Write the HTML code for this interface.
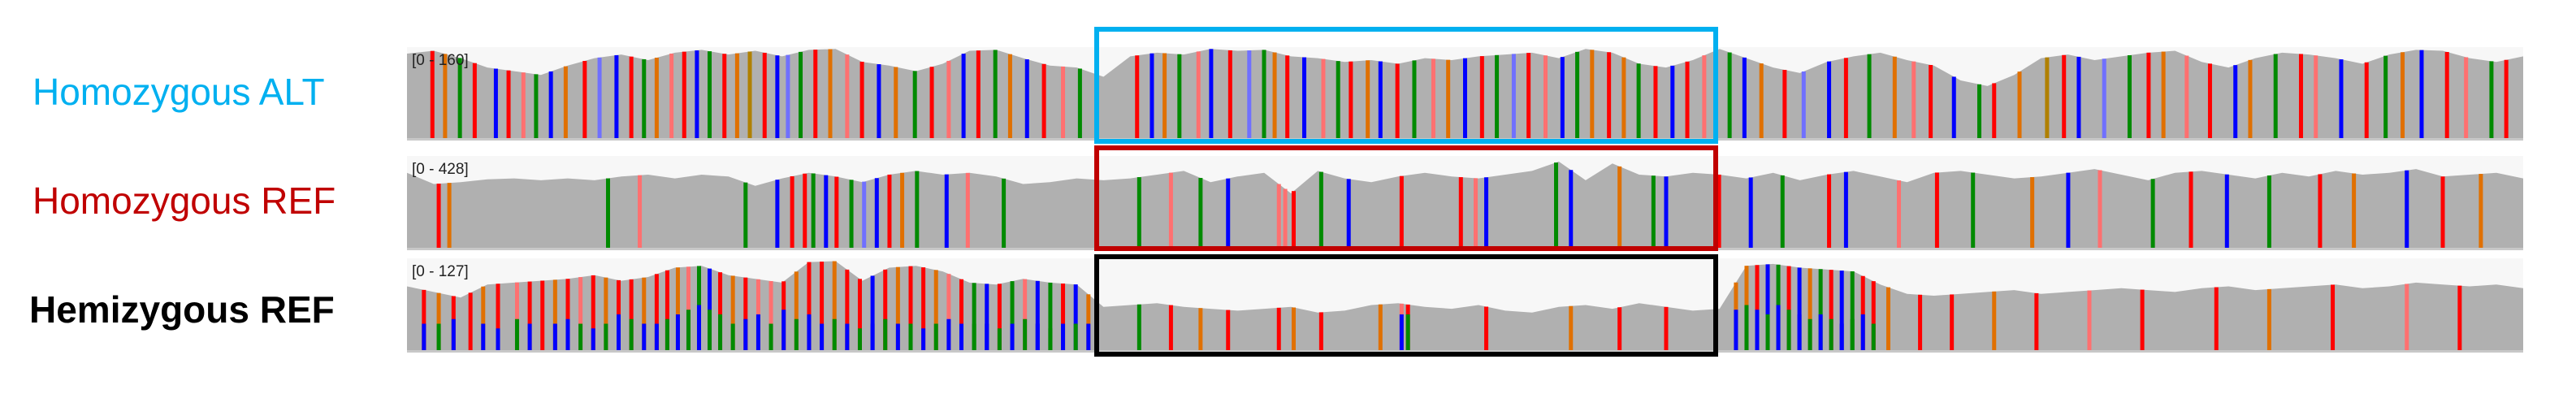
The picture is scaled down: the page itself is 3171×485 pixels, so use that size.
<!DOCTYPE html>
<html><head><meta charset="utf-8"><style>
html,body{margin:0;padding:0;background:#fff;width:3171px;height:485px;overflow:hidden}
.lbl{position:absolute;font-family:"Liberation Sans",sans-serif;font-size:46px;white-space:nowrap}
</style></head><body>
<div class="lbl" style="left:40px;top:86px;color:#00b0f0">Homozygous ALT</div>
<div class="lbl" style="left:40px;top:220px;color:#c00000">Homozygous REF</div>
<div class="lbl" style="left:36px;top:354px;color:#000;font-weight:bold">Hemizygous REF</div>
<svg id="chart" width="3171" height="485" style="position:absolute;left:0;top:0"></svg>
<script>
const cov1=[93,96,88,78,74,70,80,88,92,86,94,97,92,96,90,97,98,84,80,74,82,96,97,88,80,78,68,90,94,92,98,96,97,90,88,84,86,82,88,86,90,92,94,88,98,94,82,78,86,98,88,78,72,84,90,94,86,80,64,58,70,88,92,86,90,94,96,84,78,88,94,92,88,82,92,97,96,88,84,90];
const cov2=[82,70,72,75,76,74,76,74,78,80,76,80,78,68,76,82,78,72,80,84,80,82,78,70,72,76,74,76,80,84,72,78,82,60,84,76,72,78,82,78,76,80,84,94,74,92,80,78,82,80,76,82,74,80,84,78,72,82,84,80,76,78,82,86,80,74,82,84,80,76,82,78,84,80,82,86,78,80,82,76];
const cov3=[70,64,58,72,74,76,78,82,76,80,90,92,82,78,74,96,97,76,90,92,86,74,72,78,74,72,48,50,52,48,46,44,46,48,42,44,50,52,48,46,50,44,42,48,50,46,52,48,44,46,92,94,90,88,86,72,62,60,62,64,66,62,64,66,68,66,64,68,70,66,68,70,72,68,70,74,72,70,72,68];
const v1pos=[1.2,1.8,2.5,3.2,4.2,4.8,5.5,6.1,6.8,7.5,8.4,9.1,9.9,10.6,11.2,11.8,12.5,13.1,13.7,14.3,15.0,15.6,16.2,16.9,17.5,18.0,18.6,19.3,20.0,20.8,21.5,22.3,23.1,24.0,24.8,25.6,26.3,27.0,27.8,28.5,29.3,30.1,31.0,31.8,34.5,35.2,35.8,36.5,37.4,38.0,38.9,39.8,40.5,41.0,41.6,42.4,43.3,44.0,44.6,45.4,46.0,46.8,47.6,48.5,49.2,50.0,50.8,51.5,52.3,53.0,53.8,54.6,55.3,56.0,56.8,57.5,58.2,59.0,59.8,60.5,61.3,62.5,63.2,64.0,65.1,66.0,67.2,68.0,69.1,70.3,71.2,72.0,73.1,74.3,75.0,76.2,77.5,78.3,79.0,80.2,81.4,82.3,83.0,84.1,85.2,86.4,87.1,88.3,89.5,90.2,91.4,92.6,93.5,94.3,95.2,96.4,97.3,98.5,99.2];
const v1col="rogrbrpgbormbrgoprbgroqrbmgroprbogrpbrgobrpgrbogpbrmgorbpgrobrgpobrgmrpbgo";
const v2pos=[1.5,2.0,9.5,11.0,16.0,17.5,18.2,18.8,19.2,19.8,20.3,21.0,21.6,22.2,22.8,23.4,24.1,25.5,26.5,28.2,34.6,36.1,37.5,38.8,41.2,41.5,41.9,43.2,44.5,47.0,49.8,50.5,51.0,54.3,55.0,57.3,58.9,59.5,62.0,63.5,65.0,67.2,68.0,70.5,72.3,74.0,76.8,78.5,80.0,82.5,84.3,86.0,88.0,90.4,92.0,94.5,96.2,98.0];
const v2col="rogpgbrrgbrgmbrogbpggpgbpprgbrrpbgbogbrbgrbprgobpgrbgrob";
const v3pos=[0.8,1.5,2.2,3.0,3.6,4.3,5.2,5.8,6.4,7.0,7.6,8.2,8.8,9.4,10.0,10.6,11.2,11.8,12.3,12.8,13.3,13.8,14.3,14.8,15.4,16.0,16.6,17.2,17.8,18.4,19.0,19.6,20.2,20.8,21.4,22.0,22.6,23.2,23.8,24.4,25.0,25.6,26.2,26.8,27.4,28.0,28.6,29.2,29.8,30.4,31.0,31.6,32.2,34.6,36.1,37.5,38.8,41.2,41.9,43.2,46.0,47.0,47.3,51.0,55.0,57.3,59.5,62.8,63.3,63.8,64.3,64.8,65.3,65.8,66.3,66.8,67.3,67.8,68.3,68.8,69.3,70.0,71.5,73.0,75.0,77.0,79.5,82.0,85.5,88.0,91.0,94.5,97.0];
const v3split=[30,30,35,0,30,25,35,30,0,30,35,30,25,30,40,35,30,30,35,40,45,50,45,40,30,35,40,30,45,35,40,30,35,30,25,30,35,30,30,25,30,35,30,30,30,25,30,35,30,25,30,30,30,0,0,0,0,0,0,0,0,40,40,0,0,0,0,45,50,45,40,50,45,40,35,40,35,30,35,40,30,0,0,0,0,0,0,0,0,0,0,0,0];
const v3col="rorrorprrorprorrorropgbrorpprorrorrbrorroprgbrgpbgrbogrorroroprrorroorbgrbogrbgr";
const v3bot="bgbgbbgbgbbgbgbgbbgbgbgggbbgbgbbgbgbgbgbgbbgbgbgbgbgbgbgbbgbgbgbgbgbgbgbgbgbgbgbgbgbg";
const ranges=["[0 - 160]","[0 - 428]","[0 - 127]"];
const svg=document.getElementById('chart');const NS="http://www.w3.org/2000/svg";
const X0=501,X1=3106;const tracks=[{y:58,h:114,cov:cov1,pos:v1pos,col:v1col},{y:192,h:115,cov:cov2,pos:v2pos,col:v2col},{y:318,h:115,cov:cov3,pos:v3pos,col:v3col,split:v3split,bot:v3bot}];
const C={r:"#ff0000",g:"#008a00",b:"#0000ff",o:"#e07000",p:"#ff7070",m:"#7070ff",q:"#b08000"};
function xs(p){return X0+(X1-X0)*p/100}
function covAt(c,p){const f=p/100*(c.length-1);const i=Math.floor(f),t=f-i;return c[i]*(1-t)+(c[Math.min(i+1,c.length-1)])*t}
function el(tag,a){const e=document.createElementNS(NS,tag);for(const k in a)e.setAttribute(k,a[k]);svg.appendChild(e);return e}
tracks.forEach((T,ti)=>{
 const bg=el('rect',{x:X0,y:T.y,width:X1-X0,height:T.h,fill:'#f7f7f7'});
 
 
 let pts=[];const n=T.cov.length;
 for(let i=0;i<n;i++){const p=i/(n-1)*100;pts.push(xs(p)+','+(T.y+T.h-T.h*T.cov[i]/100));}
 pts.push(X1+','+(T.y+T.h));pts.push(X0+','+(T.y+T.h));
 const a=el('polygon',{points:pts.join(' '),fill:'#b0b0b0'});
 
 
 T.pos.forEach((p,i)=>{
  const hh=T.h*covAt(T.cov,p)/100;const x=xs(p);
  const c=C[T.col[i%T.col.length]]||"#ff0000";
  const r=el('rect',{x:x-2.5,y:T.y+T.h-hh,width:5,height:hh,fill:c});
  
  
  if(T.split&&T.split[i]>0){const bh=T.h*T.split[i]/100;
   const b=el('rect',{x:x-2.5,y:T.y+T.h-bh,width:5,height:bh,fill:C[T.bot[i%T.bot.length]]});
   
   }
 });
 const base=el('rect',{x:X0,y:T.y+T.h-2,width:X1-X0,height:3,fill:'#c8c8c8'});
 
 
 const t=el('text',{x:X0+6,y:T.y+22,'font-family':'Liberation Sans, sans-serif','font-size':'19',fill:'#222'});
 t.textContent=ranges[ti];
 
 
});
const boxes=[{y:33,h:144,c:'#00b0f0',n:'alt-highlight-box'},{y:179,h:130,c:'#c00000',n:'ref-highlight-box'},{y:313,h:126,c:'#000',n:'hemi-highlight-box'}];
boxes.forEach(B=>{const r=el('rect',{x:1350,y:B.y+3,width:762,height:B.h-6,fill:'none',stroke:B.c,'stroke-width':6});
 
 });
</script>
</body></html>
